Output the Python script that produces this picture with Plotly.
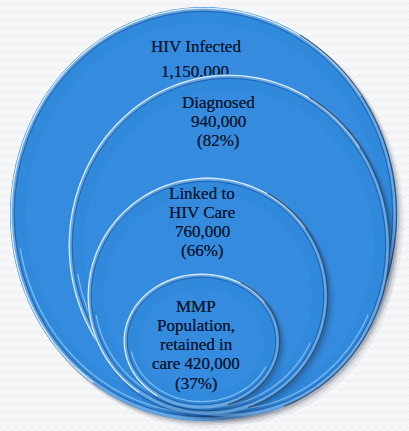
import numpy as np
import plotly.graph_objects as go

# ---- data ----
stages = ["HIV Infected", "Diagnosed", "Linked to HIV Care", "MMP Population, retained in care"]
counts = ["1,150,000", "940,000", "760,000", "420,000"]
percents = ["", "(82%)", "(66%)", "(37%)"]
label_lines = [
    ["HIV Infected", "1,150,000"],
    ["Diagnosed", "940,000", "(82%)"],
    ["Linked to", "HIV Care", "760,000", "(66%)"],
    ["MMP", "Population,", "retained in", "care 420,000", "(37%)"],
]

# ---- layout geometry (pixel-like axis units, y down) ----
W, H = 409, 431
circle_bounds = [(10, 397, 7, 421), (68, 390, 74, 417), (87, 328, 177, 415), (123, 280, 273, 409)]
text_anchor = [(196, 48), (218, 102), (202, 193), (196, 306)]
line_step = 19.3

FILL = "#3189dc"
FONT = dict(family="Liberation Serif, DejaVu Serif, serif", size=17, color="#0a1833",
            shadow="0px 0px 0.6px rgba(10,24,51,0.9)")


def arc_path(b, inset, t1, t2, n=90):
    x0, x1, y0, y1 = b
    cx, cy = (x0 + x1) / 2, (y0 + y1) / 2
    rx, ry = (x1 - x0) / 2 - inset, (y1 - y0) / 2 - inset
    t = np.radians(np.linspace(t1, t2, n))
    xs = cx + rx * np.cos(t)
    ys = cy - ry * np.sin(t)
    return "M " + " L ".join(f"{x:.2f},{y:.2f}" for x, y in zip(xs, ys))


def ell(b, inset, layer, fill="rgba(0,0,0,0)", color="rgba(0,0,0,0)", width=0, dx=0, dy=0):
    x0, x1, y0, y1 = b
    return dict(type="circle", xref="x", yref="y",
                x0=x0 + inset + dx * 0.6, x1=x1 - inset + dx, y0=y0 + inset + dy * 0.6, y1=y1 - inset + dy,
                fillcolor=fill, line=dict(color=color, width=width), layer=layer)


def arc(b, inset, t1, t2, color, width, layer):
    return dict(type="path", xref="x", yref="y", path=arc_path(b, inset, t1, t2),
                line=dict(color=color, width=width), layer=layer)


def circle_shapes(b, layer):
    s = []
    # soft shadow toward lower right
    for off, a in [(7, 0.05), (4.5, 0.08), (2.5, 0.14)]:
        s.append(ell(b, 0, layer, fill=f"rgba(10,25,50,{a})", dx=off, dy=off))
    # body
    s.append(ell(b, 0, layer, fill=FILL))
    # slightly lighter centre
    s.append(ell(b, 16, layer, fill="rgba(80,160,240,0.14)"))
    # bevel ring
    s.append(ell(b, 2, layer, color="rgba(150,192,228,0.55)", width=3))
    # bright outer highlight (top-left)
    s.append(arc(b, 1.2, 35, 235, "rgba(235,246,255,0.9)", 1.2, layer))
    # inner dark groove
    s.append(ell(b, 4.3, layer, color="rgba(25,75,145,0.6)", width=1))
    # dark right edge
    s.append(arc(b, 0.5, -70, 60, "rgba(25,35,55,0.55)", 1.4, layer))
    # glossy bottom line
    s.append(arc(b, 7.5, 190, 335, "rgba(185,225,255,0.6)", 1.2, layer))
    return s


# background zigzag texture
zz = []
for yy in range(4, H, 8):
    pts = []
    for i, xx in enumerate(range(0, W + 8, 4)):
        pts.append(f"{xx},{yy + (2 if i % 2 else -1)}")
    zz.append("M " + " L ".join(pts))
shapes = [dict(type="path", xref="x", yref="y", path=" ".join(zz),
               line=dict(color="#e9ebee", width=1), layer="below")]

shapes += circle_shapes(circle_bounds[0], "below")
for b in circle_bounds[1:]:
    shapes += circle_shapes(b, "above")

fig = go.Figure()

# outer label as a trace so the next circle overlaps it
ax, ay = text_anchor[0]
fig.add_trace(go.Scatter(
    x=[ax, ax - 1],
    y=[ay, ay + 24.5],
    mode="text", text=label_lines[0], textfont=FONT, hoverinfo="skip", showlegend=False))

annotations = []
for (axp, ayp), lines in zip(text_anchor[1:], label_lines[1:]):
    for i, ln in enumerate(lines):
        annotations.append(dict(x=axp, y=ayp + i * line_step, xref="x", yref="y", text=ln,
                                showarrow=False, font=FONT, xanchor="center", yanchor="middle"))

fig.update_layout(
    width=W, height=H, margin=dict(l=0, r=0, t=0, b=0),
    paper_bgcolor="#f6f7f8", plot_bgcolor="#f6f7f8",
    xaxis=dict(range=[0, W], visible=False, fixedrange=True),
    yaxis=dict(range=[H, 0], visible=False, fixedrange=True),
    shapes=shapes, annotations=annotations, showlegend=False,
)

fig.write_html("out.html", config={"displayModeBar": False},
               post_script="document.body.style.margin='0';document.body.style.overflow='hidden';")
